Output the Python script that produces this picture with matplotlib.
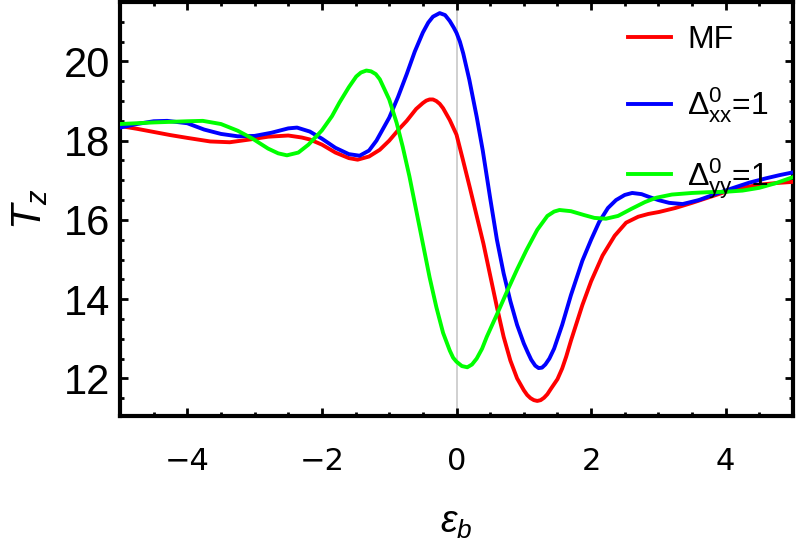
import numpy as np
import matplotlib
matplotlib.use("Agg")
import matplotlib.pyplot as plt
from matplotlib.ticker import MultipleLocator

plt.rcParams['mathtext.fontset'] = 'custom'
plt.rcParams['mathtext.rm'] = 'Liberation Sans'
plt.rcParams['mathtext.it'] = 'Liberation Sans:italic'
plt.rcParams['mathtext.bf'] = 'Liberation Sans:bold'
plt.rcParams['font.family'] = ['Liberation Sans', 'DejaVu Sans']

# values
x_mf = [-5.0, -4.75, -4.5, -4.25, -4.0, -3.66, -3.37, -3.07, -2.8, -2.5, -2.3, -2.18,
        -2.0, -1.8, -1.6, -1.47, -1.3, -1.14, -1.0, -0.85, -0.74, -0.6, -0.5, -0.45, -0.4,
        -0.35, -0.3, -0.25, -0.2, -0.1, 0.0, 0.09, 0.2, 0.3, 0.4, 0.5, 0.6, 0.7, 0.8, 0.9, 1.0,
        1.05, 1.1, 1.15, 1.2, 1.25, 1.3, 1.35, 1.4, 1.5, 1.57, 1.63, 1.7, 1.87, 2.0, 2.17, 2.35,
        2.52, 2.7, 2.85, 3.01, 3.25, 3.5, 3.75, 4.0, 4.25, 4.5, 4.75, 5.0]
y_mf = [18.37, 18.30, 18.22, 18.14, 18.07, 17.98, 17.96, 18.03, 18.10, 18.13, 18.08, 18.03,
        17.90, 17.70, 17.56, 17.52, 17.60, 17.77, 18.00, 18.30, 18.50, 18.80, 18.95, 19.01, 19.04,
        19.04, 19.00, 18.93, 18.82, 18.52, 18.15, 17.55, 16.80, 16.10, 15.40, 14.60, 13.80, 13.05, 12.45, 12.00, 11.70,
        11.58, 11.50, 11.45, 11.43, 11.45, 11.51, 11.60, 11.73, 11.98, 12.25, 12.55, 12.95, 13.85, 14.45, 15.10, 15.60,
        15.93, 16.08, 16.15, 16.20, 16.30, 16.43, 16.57, 16.71, 16.81, 16.89, 16.93, 16.96]

x_xx = [-5.0, -4.75, -4.5, -4.3, -4.0, -3.75, -3.5, -3.25, -3.0, -2.75, -2.5, -2.37, -2.18,
        -2.0, -1.8, -1.6, -1.44, -1.3, -1.19, -1.0, -0.87, -0.74, -0.62, -0.5, -0.42, -0.35,
        -0.25, -0.17, -0.1, -0.04, 0.0, 0.05, 0.1, 0.19, 0.3, 0.39, 0.5, 0.6, 0.7, 0.8, 0.9,
        1.0, 1.06, 1.11, 1.17, 1.22, 1.27, 1.32, 1.38, 1.45, 1.57, 1.7, 1.87, 2.0, 2.12, 2.25,
        2.37, 2.5, 2.61, 2.75, 2.86, 3.0, 3.16, 3.36, 3.6, 3.86, 4.1, 4.35, 4.6, 4.8, 5.0]
y_xx = [18.33, 18.42, 18.49, 18.50, 18.44, 18.28, 18.17, 18.11, 18.12, 18.20, 18.31, 18.33, 18.23,
        18.05, 17.82, 17.66, 17.62, 17.75, 18.00, 18.58, 19.10, 19.68, 20.25, 20.73, 20.98, 21.13,
        21.22, 21.17, 21.02, 20.85, 20.72, 20.50, 20.20, 19.54, 18.60, 17.75, 16.55, 15.50, 14.65, 13.95, 13.35,
        12.88, 12.65, 12.47, 12.32, 12.26, 12.27, 12.35, 12.50, 12.75, 13.35, 14.10, 14.97, 15.50, 15.95, 16.30,
        16.50, 16.63, 16.68, 16.65, 16.58, 16.50, 16.43, 16.40, 16.50, 16.66, 16.80, 16.94, 17.05, 17.13, 17.20]

x_yy = [-5.0, -4.5, -4.0, -3.77, -3.5, -3.25, -3.03, -2.8, -2.65, -2.52, -2.35, -2.2, -2.0,
        -1.85, -1.74, -1.6, -1.49, -1.42, -1.34, -1.27, -1.2, -1.14, -1.0, -0.89, -0.8, -0.7,
        -0.6, -0.5, -0.4, -0.3, -0.2, -0.1, -0.05, 0.0, 0.08, 0.16, 0.23, 0.3, 0.38, 0.45, 0.61,
        0.76, 0.9, 1.04, 1.2, 1.35, 1.45, 1.53, 1.7, 1.9, 2.05, 2.22, 2.4, 2.6, 2.8, 2.97, 3.2,
        3.5, 3.75, 4.0, 4.25, 4.5, 4.75, 5.0]
y_yy = [18.42, 18.46, 18.49, 18.50, 18.42, 18.25, 18.05, 17.80, 17.68, 17.63, 17.70, 17.90, 18.26,
        18.62, 18.96, 19.35, 19.62, 19.72, 19.77, 19.75, 19.68, 19.55, 19.04, 18.45, 17.85, 17.10,
        16.25, 15.40, 14.55, 13.80, 13.15, 12.70, 12.52, 12.42, 12.31, 12.28, 12.35, 12.50, 12.75, 13.05, 13.65,
        14.23, 14.75, 15.24, 15.75, 16.10, 16.21, 16.25, 16.22, 16.12, 16.05, 16.03, 16.10, 16.28, 16.45, 16.56, 16.64,
        16.68, 16.70, 16.71, 16.74, 16.81, 16.93, 17.08]

labels = ['MF', r'$\Delta^{0}_{\mathrm{xx}}$=1', r'$\Delta^{0}_{\mathrm{yy}}$=1']

fig = plt.figure(figsize=(7.97, 5.43), dpi=100)
ax = fig.add_axes([0.1506, 0.2339, 0.8444, 0.7624])

ax.axvline(0, color='#c4c4c4', lw=1.1, zorder=1)
ax.plot(x_mf, y_mf, color=(1, 0, 0), lw=2.8, label=labels[0], zorder=3)
ax.plot(x_xx, y_xx, color=(0, 0, 1), lw=2.8, label=labels[1], zorder=3)
ax.plot(x_yy, y_yy, color=(0, 1, 0), lw=2.8, label=labels[2], zorder=3)

ax.set_xlim(-5, 5)
ax.set_ylim(11.05, 21.5)
ax.xaxis.set_major_locator(MultipleLocator(2))
ax.xaxis.set_minor_locator(MultipleLocator(0.5))
ax.yaxis.set_major_locator(MultipleLocator(2))
ax.yaxis.set_minor_locator(MultipleLocator(0.5))
ax.tick_params(which='both', direction='in', top=True, right=True, width=2, color='black')
ax.tick_params(which='major', length=6)
ax.tick_params(which='minor', length=3)
ax.tick_params(axis='y', which='major', labelsize=30, pad=7)
ax.tick_params(axis='x', which='major', labelsize=22, pad=22)
for lab in ax.get_xticklabels():
    lab.set_family('DejaVu Sans')
for s in ax.spines.values():
    s.set_linewidth(3)

ax.set_xlabel(r'$\epsilon_b$', fontsize=27)
ax.set_ylabel(r'$T_z$', fontsize=30)
ax.xaxis.set_label_coords(0.5, -0.215)
ax.yaxis.set_label_coords(-0.104, 0.5)

ax.legend(loc='upper left', bbox_to_anchor=(0.755, 0.944), frameon=False, fontsize=23,
          handlelength=1.35, handletextpad=0.5, labelspacing=0.95, borderpad=0, borderaxespad=0)

fig.savefig('out.png', dpi=100)
